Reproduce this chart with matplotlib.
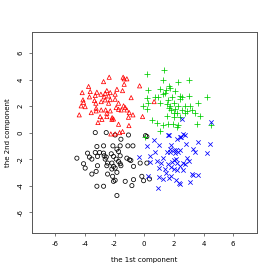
import matplotlib
matplotlib.use("Agg")
import matplotlib.pyplot as plt

plt.rcParams['axes.unicode_minus'] = False

red_x = [-2.36,-2.74,-1.42,-1.35,-1.17,-1.35,-3.75,-4.18,-3.64,-3.19,-0.31,-1.84,-1.46,-2.52,-2.92,-2.63,-2.29,-1.96,-3.3,-3.69,-2.7,-2.4,-4.13,-4.09,-4.25,-3.98,-3.35,-3.26,-2.9,-2.63,-2.29,-1.96,-1.73,-0.88,-2.4,-3.24,-2.9,-3.57,-3.24,-2.6,-2.29,-1.89,-1.39,-1.28,-1.17,-1.55,-1.73,-1.01,-0.76,-4.38,-2.52,-2.97,-2.52,-2.16,-2.07,-2.18,-1.06,-0.11,-2.85,-3.12,-1.03,-1.73,0.67,-2.25,-1.96,-1.66,-1.46]
red_y = [4.18,3.85,4.18,4.06,4.06,3.65,3.48,3.02,3.1,3.05,3.53,3.27,3.17,3.17,2.9,2.97,3.02,2.9,2.8,2.7,2.7,2.77,2.47,2.29,2.02,1.96,2.42,2.22,2.34,2.47,2.49,2.52,2.22,2.64,2.22,1.84,1.71,1.51,1.64,1.71,1.64,1.89,2.02,1.89,1.71,1.71,1.76,1.51,1.34,1.34,1.46,1.21,1.21,1.13,1.03,1.0,1.16,1.21,1.0,0.76,0.53,0.63,2.34,-0.1,-0.1,0.0,0.08]

green_x = [0.22,1.35,1.26,2.27,3.01,1.69,0.25,1.08,1.46,1.75,2.09,1.42,1.3,0.7,0.92,0.18,2.43,2.54,2.43,3.01,4.22,1.6,1.87,0.25,-0.09,0.18,1.08,1.53,1.75,1.98,2.31,2.76,3.06,3.6,1.64,1.8,2.09,2.54,2.88,3.21,1.98,2.2,2.76,3.42,3.78,1.53,2.02,2.43,0.52,0.85,1.24,1.6,1.93,2.31,2.2,3.55,4.49,1.08,0.07]
green_y = [4.41,4.74,3.98,3.85,3.98,3.55,3.22,3.27,3.22,3.4,3.17,3.02,2.9,2.72,2.72,2.64,2.77,2.67,2.52,2.77,2.72,2.47,2.72,2.22,2.02,1.76,2.22,2.17,2.02,2.22,2.02,2.02,2.02,2.22,1.84,1.71,1.76,1.71,1.64,1.71,1.51,1.46,1.51,1.46,1.28,1.26,1.21,1.16,0.96,0.71,0.58,0.63,0.65,0.58,0.4,0.63,0.58,0.15,-0.3]

blue_x = [2.54,4.52,1.6,2.49,2.72,0.63,1.64,2.65,2.43,2.2,3.66,4.45,0.22,1.01,1.82,2.83,0.74,1.71,1.98,2.16,2.43,3.26,3.44,4.22,1.53,1.75,2.09,2.31,-0.38,0.4,1.3,1.98,2.16,2.88,0.85,0.4,1.1,1.6,1.87,2.2,2.65,3.03,2.43,2.72,0.97,1.42,1.78,2.02,2.18,2.65,1.46,1.8,3.21,3.28,3.6,0.25,0.97,1.3,1.64,2.13,2.38,2.43,3.1,0.92]
blue_y = [1.0,0.83,-0.18,-0.3,-0.18,-0.55,-0.18,-0.1,-0.35,-0.5,-0.72,-0.85,-1.0,-0.93,-0.93,-0.88,-1.5,-1.23,-1.35,-1.3,-1.35,-1.25,-1.5,-1.55,-1.43,-1.5,-1.55,-1.5,-1.85,-1.75,-1.93,-2.1,-2.0,-1.88,-2.18,-2.23,-2.3,-2.35,-2.23,-2.3,-2.3,-2.18,-2.5,-2.35,-2.68,-2.75,-2.63,-2.75,-2.85,-2.8,-3.05,-3.3,-3.1,-3.18,-3.23,-3.3,-3.35,-3.5,-3.43,-3.6,-3.8,-3.85,-3.75,-4.18]

black_x = [-3.3,-2.56,-1.96,-1.06,0.09,0.18,-1.57,-2.74,-3.19,-2.11,-1.62,-1.1,-0.76,-1.84,-1.73,-3.3,-3.01,-2.74,-2.22,-3.82,-3.69,-4.54,-3.53,-3.15,-2.7,-2.56,-2.63,-2.07,-1.62,-1.89,-1.17,-0.99,-0.9,-2.47,-2.18,-1.73,-1.62,-0.27,0.18,-4.09,-3.15,-3.98,-2.52,-2.07,-1.57,-1.96,-0.72,-2.18,-3.24,-3.53,-2.47,-1.84,-2.13,-0.16,0.36,-0.72,-2.07,-1.96,-1.28,-0.04,-0.83,-3.19,-2.74,-1.84]
black_y = [0.0,0.0,-0.18,-0.18,-0.23,-0.3,-0.5,-1.0,-1.05,-1.0,-1.0,-1.0,-1.0,-1.25,-1.43,-1.5,-1.5,-1.55,-1.6,-1.55,-1.85,-1.93,-2.0,-1.8,-1.75,-1.85,-2.0,-1.8,-1.75,-2.0,-1.93,-2.05,-2.1,-2.3,-2.3,-2.18,-2.35,-2.3,-2.3,-2.35,-2.5,-2.68,-2.5,-2.55,-2.5,-2.68,-2.55,-2.75,-2.93,-3.13,-3.13,-3.0,-3.3,-3.3,-3.5,-3.55,-3.68,-3.6,-3.68,-3.63,-4.0,-4.05,-4.05,-4.75]

ticks = [-6, -4, -2, 0, 2, 4, 6]

fig = plt.figure(figsize=(2.73, 2.73), dpi=100)
ax = fig.add_axes([0.117, 0.1465, 0.824, 0.7365])
ms = 3.0
lw = 0.55
ax.scatter(black_x, black_y, s=ms**2, facecolors='none', edgecolors='black', marker='o', linewidths=lw)
ax.scatter(red_x, red_y, s=ms**2, facecolors='none', edgecolors='red', marker='^', linewidths=lw)
ax.scatter(green_x, green_y, s=(ms*1.3)**2, color='#00cd00', marker='+', linewidths=lw)
ax.scatter(blue_x, blue_y, s=(ms*1.05)**2, color='blue', marker='x', linewidths=lw)

ax.set_xlim(-7.57, 7.6)
ax.set_ylim(-7.58, 7.6)
ax.set_xticks(ticks)
ax.set_yticks(ticks)
ax.tick_params(axis='both', labelsize=5, length=2.5, width=0.5, color='#444444', pad=3.5)
for lab in ax.get_yticklabels():
    lab.set_rotation(90)
    lab.set_va('center')
for sp in ax.spines.values():
    sp.set_linewidth(0.7)
    sp.set_color('#555555')
ax.set_xlabel('the 1st component', fontsize=5, labelpad=7)
ax.set_ylabel('the 2nd component', fontsize=5, labelpad=5)
fig.savefig('out.png', dpi=100)
